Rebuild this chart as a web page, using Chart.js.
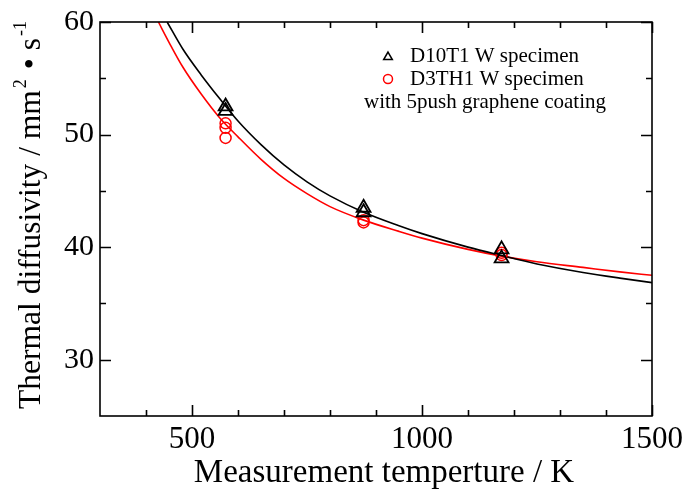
<!DOCTYPE html>
<html>
<head>
    <title>Thermal diffusivity</title>
    <script src="https://cdn.jsdelivr.net/npm/chart.js"></script>
    <style>
        body { margin: 0; background: #fff; }
        .chart-container { width: 687px; height: 492px; }
    </style>
</head>
<body>
    <div class="chart-container">
        <canvas id="diffChart" width="687" height="492"></canvas>
    </div>
    <script>
        // measured points
        const tempD10 = [573, 573, 873, 873, 1173, 1173];
        const diffD10 = [52.5, 52.1, 43.5, 43.1, 39.8, 39.0];
        const tempD3 = [573, 573, 573, 873, 873, 1173, 1173];
        const diffD3 = [51.0, 50.6, 49.7, 42.4, 42.2, 39.5, 39.3];

        // fitted curves
        const fitTempD10 = [446, 480, 520, 560, 600, 650, 700, 750, 800, 873, 950, 1000, 1100, 1173, 1250, 1350, 1430, 1500];
        const fitDiffD10 = [60.0, 57.6, 55.3, 53.2, 51.2, 49.1, 47.3, 45.8, 44.55, 43.1, 41.9, 41.2, 40.0, 39.25, 38.5, 37.75, 37.25, 36.85];
        const fitTempD3 = [427, 450, 480, 520, 560, 600, 650, 700, 750, 800, 873, 950, 1000, 1100, 1173, 1250, 1350, 1430, 1500];
        const fitDiffD3 = [60.0, 58.2, 56.0, 53.6, 51.5, 49.8, 47.8, 46.1, 44.75, 43.6, 42.4, 41.4, 40.8, 39.8, 39.2, 38.7, 38.2, 37.8, 37.5];

        const legendLabels = ['D10T1 W specimen', 'D3TH1 W specimen', 'with 5push graphene coating'];
        const xTitle = 'Measurement temperture / K';

        const xTicks = [500, 1000, 1500];
        const xMinorTicks = [400, 600, 700, 800, 900, 1100, 1200, 1300, 1400];
        const yTicks = [30, 40, 50, 60];
        const yMinorTicks = [35, 45, 55];

        const serif = "'Liberation Serif', 'Times New Roman', serif";
        const toXY = (xs, ys) => xs.map((x, i) => ({ x: x, y: ys[i] }));

        // inward ticks on all four sides, plus the frame
        const frameTicks = {
            id: 'frameTicks',
            afterDraw: chart => {
                const ctx = chart.ctx;
                const a = chart.chartArea;
                const xs = chart.scales.x, ys = chart.scales.y;
                ctx.save();
                ctx.strokeStyle = '#000';
                ctx.lineWidth = 1.6;
                ctx.strokeRect(a.left, a.top, a.right - a.left, a.bottom - a.top);
                const tick = (vals, len, horiz) => {
                    vals.forEach(v => {
                        ctx.beginPath();
                        if (horiz) {
                            const p = Math.round(xs.getPixelForValue(v)) + 0.5;
                            ctx.moveTo(p, a.bottom); ctx.lineTo(p, a.bottom - len);
                            ctx.moveTo(p, a.top); ctx.lineTo(p, a.top + len);
                        } else {
                            const p = Math.round(ys.getPixelForValue(v)) + 0.5;
                            ctx.moveTo(a.left, p); ctx.lineTo(a.left + len, p);
                            ctx.moveTo(a.right, p); ctx.lineTo(a.right - len, p);
                        }
                        ctx.stroke();
                    });
                };
                tick(xTicks, 11, true);
                tick(xMinorTicks, 6, true);
                tick(yTicks, 11, false);
                tick(yMinorTicks, 6, false);
                ctx.restore();
            }
        };

        // legend inside the plot, x title, and the y title with superscripts
        const labels = {
            id: 'labels',
            afterDraw: chart => {
                const ctx = chart.ctx;
                ctx.save();
                ctx.fillStyle = '#000';
                ctx.strokeStyle = '#000';
                ctx.lineWidth = 1.5;
                const r = 5, s = Math.sin(Math.PI * 2 / 3), c = Math.cos(Math.PI * 2 / 3);
                ctx.beginPath();
                ctx.moveTo(388, 57 - r);
                ctx.lineTo(388 + r * s, 57 - r * c);
                ctx.lineTo(388 - r * s, 57 - r * c);
                ctx.closePath();
                ctx.stroke();
                ctx.strokeStyle = '#ff0000';
                ctx.beginPath();
                ctx.arc(388, 79, 4.5, 0, Math.PI * 2);
                ctx.stroke();

                ctx.textBaseline = 'middle';
                ctx.font = '21px ' + serif;
                ctx.textAlign = 'left';
                ctx.fillText(legendLabels[0], 410, 56);
                ctx.fillText(legendLabels[1], 410, 79);
                ctx.textAlign = 'center';
                ctx.fillText(legendLabels[2], 485, 102);

                // x title
                ctx.textBaseline = 'alphabetic';
                ctx.font = '33px ' + serif;
                ctx.fillText(xTitle, 384, 482);

                // y title
                ctx.translate(40, 214);
                ctx.rotate(-Math.PI / 2);
                ctx.textAlign = 'left';
                const big = '31.5px ' + serif, small = '18px ' + serif;
                const parts = [
                    ['Thermal diffusivity / mm', big, 0],
                    ['2', small, -14],
                    [' \u2022 s', big, 0],
                    ['-1', small, -14]
                ];
                let total = 0;
                parts.forEach(p => { ctx.font = p[1]; total += ctx.measureText(p[0]).width + 2; });
                let x = -total / 2;
                parts.forEach(p => {
                    ctx.font = p[1];
                    ctx.fillText(p[0], x, p[2]);
                    x += ctx.measureText(p[0]).width + 2;
                });
                ctx.restore();
            }
        };

        new Chart(document.getElementById('diffChart'), {
            type: 'scatter',
            data: {
                datasets: [
                    {
                        label: legendLabels[0],
                        data: toXY(tempD10, diffD10),
                        pointStyle: 'triangle',
                        pointRadius: 8,
                        pointBorderWidth: 1.8,
                        borderColor: '#000',
                        backgroundColor: 'rgba(0,0,0,0)'
                    },
                    {
                        label: legendLabels[1],
                        data: toXY(tempD3, diffD3),
                        pointStyle: 'circle',
                        pointRadius: 5.5,
                        pointBorderWidth: 1.5,
                        borderColor: '#ff0000',
                        backgroundColor: 'rgba(0,0,0,0)'
                    },
                    {
                        label: 'fit D10T1',
                        data: toXY(fitTempD10, fitDiffD10),
                        showLine: true,
                        pointRadius: 0,
                        borderColor: '#000',
                        borderWidth: 1.6,
                        cubicInterpolationMode: 'monotone'
                    },
                    {
                        label: 'fit D3TH1',
                        data: toXY(fitTempD3, fitDiffD3),
                        showLine: true,
                        pointRadius: 0,
                        borderColor: '#ff0000',
                        borderWidth: 1.6,
                        cubicInterpolationMode: 'monotone'
                    }
                ]
            },
            options: {
                responsive: false,
                animation: false,
                layout: { padding: { top: 22, right: 35, left: 0, bottom: 0 } },
                scales: {
                    x: {
                        type: 'linear',
                        min: 300,
                        max: 1500,
                        afterBuildTicks: scale => { scale.ticks = xTicks.map(v => ({ value: v })); },
                        afterFit: scale => { scale.height = 76; },
                        grid: { display: false },
                        border: { display: false },
                        ticks: { color: '#000', font: { family: serif, size: 31 }, padding: -3, maxRotation: 0, callback: v => String(v) }
                    },
                    y: {
                        type: 'linear',
                        min: 25,
                        max: 60,
                        afterBuildTicks: scale => { scale.ticks = yTicks.map(v => ({ value: v })); },
                        afterFit: scale => { scale.width = 100; },
                        grid: { display: false },
                        border: { display: false },
                        ticks: { color: '#000', font: { family: serif, size: 30 }, padding: -2 }
                    }
                },
                plugins: {
                    legend: { display: false },
                    tooltip: { enabled: false }
                }
            },
            plugins: [frameTicks, labels]
        });
    </script>
</body>
</html>
